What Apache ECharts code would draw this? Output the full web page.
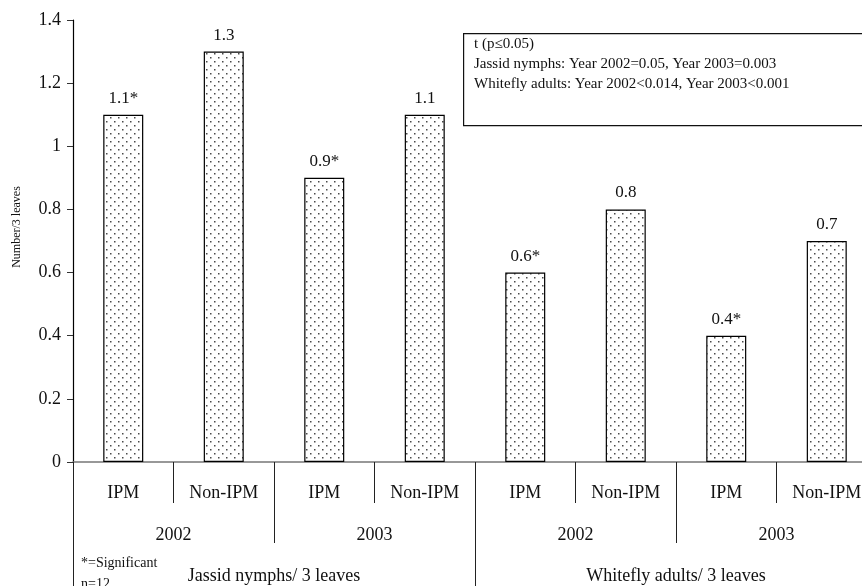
<!DOCTYPE html>
<html>
<head>
<meta charset="utf-8">
<style>
  html, body { margin: 0; padding: 0; background: #fff; }
  #chart { width: 862px; height: 586px; }
</style>
<script src="https://cdn.jsdelivr.net/npm/echarts@6/dist/echarts.min.js"></script>
</head>
<body>
<div id="chart"></div>
<script>
// Treatment categories (innermost axis row)
const treatments = ['IPM', 'Non-IPM', 'IPM', 'Non-IPM', 'IPM', 'Non-IPM', 'IPM', 'Non-IPM'];
// Year row
const years = ['2002', '2003', '2002', '2003'];
// Pest group row
const groups = ['Jassid nymphs/ 3 leaves', 'Whitefly adults/ 3 leaves'];
// Mean number per 3 leaves
const values = [1.1, 1.3, 0.9, 1.1, 0.6, 0.8, 0.4, 0.7];
// Significant difference markers
const significant = [true, false, true, false, true, false, true, false];
// Y axis tick settings
const yMin = 0, yMax = 1.4, yStep = 0.2;

const serif = 'Liberation Serif';

// Stippled fill used by the bars
function dotPattern() {
  const c = document.createElement('canvas');
  c.width = 8; c.height = 8;
  const g = c.getContext('2d');
  g.fillStyle = '#ffffff';
  g.fillRect(0, 0, 8, 8);
  g.fillStyle = '#4a4a4a';
  g.fillRect(2, 1, 1.5, 1.5);
  g.fillRect(6, 5, 1.5, 1.5);
  return c;
}

const chart = echarts.init(document.getElementById('chart'), null, { renderer: 'canvas' });

// The plot runs a little past the right edge of the page
const gridBox = {
  left: 73, top: 20, width: 804, bottom: 124,
  containLabel: false, outerBoundsMode: 'none'
};

const option = {
  animation: false,
  backgroundColor: '#ffffff',
  grid: gridBox,
  xAxis: [
    {
      type: 'category',
      data: treatments,
      position: 'bottom',
      axisLine: { show: true, lineStyle: { color: '#777', width: 1.5 } },
      axisTick: { show: true, alignWithLabel: false, length: 41, lineStyle: { color: '#222' } },
      axisLabel: {
        margin: 31, verticalAlign: 'middle', interval: 0,
        fontFamily: serif, fontSize: 18, color: '#111'
      },
      splitLine: { show: false }
    },
    {
      type: 'category',
      data: years,
      position: 'bottom',
      offset: 41,
      axisLine: { show: false },
      axisTick: { show: true, length: 40, lineStyle: { color: '#222' } },
      axisLabel: {
        margin: 32, verticalAlign: 'middle', interval: 0,
        fontFamily: serif, fontSize: 18, color: '#111'
      },
      splitLine: { show: false }
    },
    {
      type: 'category',
      data: groups,
      position: 'bottom',
      offset: 81,
      axisLine: { show: false },
      axisTick: { show: true, length: 45, lineStyle: { color: '#222' } },
      axisLabel: {
        margin: 33, verticalAlign: 'middle', interval: 0,
        fontFamily: serif, fontSize: 18, color: '#111'
      },
      splitLine: { show: false }
    }
  ],
  yAxis: {
    type: 'value',
    min: yMin, max: yMax, interval: yStep,
    axisLine: { show: true, lineStyle: { color: '#000', width: 1.2 } },
    axisTick: { show: true, inside: false, length: 6, lineStyle: { color: '#333' } },
    axisLabel: { margin: 12, fontFamily: serif, fontSize: 18, color: '#111' },
    splitLine: { show: false }
  },
  series: [
    {
      type: 'bar',
      xAxisIndex: 0,
      data: values,
      barWidth: 40,
      itemStyle: {
        color: { image: dotPattern(), repeat: 'repeat' },
        borderColor: '#000',
        borderWidth: 1.2
      },
      label: {
        show: true,
        position: 'top',
        distance: 8,
        fontFamily: serif,
        fontSize: 17,
        color: '#111',
        formatter: p => String(values[p.dataIndex]) + (significant[p.dataIndex] ? '*' : '')
      }
    }
  ],
  graphic: [
    {
      // y axis title
      type: 'text', x: 17, y: 227, rotation: Math.PI / 2, z: 11,
      style: {
        text: 'Number/3 leaves', fontFamily: serif, fontSize: 12, fill: '#111',
        align: 'center', verticalAlign: 'middle'
      }
    },
    {
      type: 'rect',
      left: 463, top: 33,
      shape: { width: 420, height: 92 },
      style: { fill: '#fff', stroke: '#111', lineWidth: 1.2 },
      z: 10
    },
    {
      type: 'text', x: 474, y: 44, z: 11,
      style: { text: 't (p\u22640.05)', fontFamily: serif, fontSize: 15, fill: '#111', verticalAlign: 'middle' }
    },
    {
      type: 'text', x: 474, y: 64, z: 11,
      style: { text: 'Jassid nymphs: Year 2002=0.05, Year 2003=0.003', fontFamily: serif, fontSize: 15, fill: '#111', verticalAlign: 'middle' }
    },
    {
      type: 'text', x: 474, y: 84, z: 11,
      style: { text: 'Whitefly adults: Year 2002<0.014, Year 2003<0.001', fontFamily: serif, fontSize: 15, fill: '#111', verticalAlign: 'middle' }
    },
    {
      type: 'text', x: 81, y: 563, z: 11,
      style: { text: '*=Significant', fontFamily: serif, fontSize: 14, fill: '#111', verticalAlign: 'middle' }
    },
    {
      type: 'text', x: 81, y: 584, z: 11,
      style: { text: 'n=12', fontFamily: serif, fontSize: 14, fill: '#111', verticalAlign: 'middle' }
    }
  ]
};

chart.setOption(option);
</script>
</body>
</html>
